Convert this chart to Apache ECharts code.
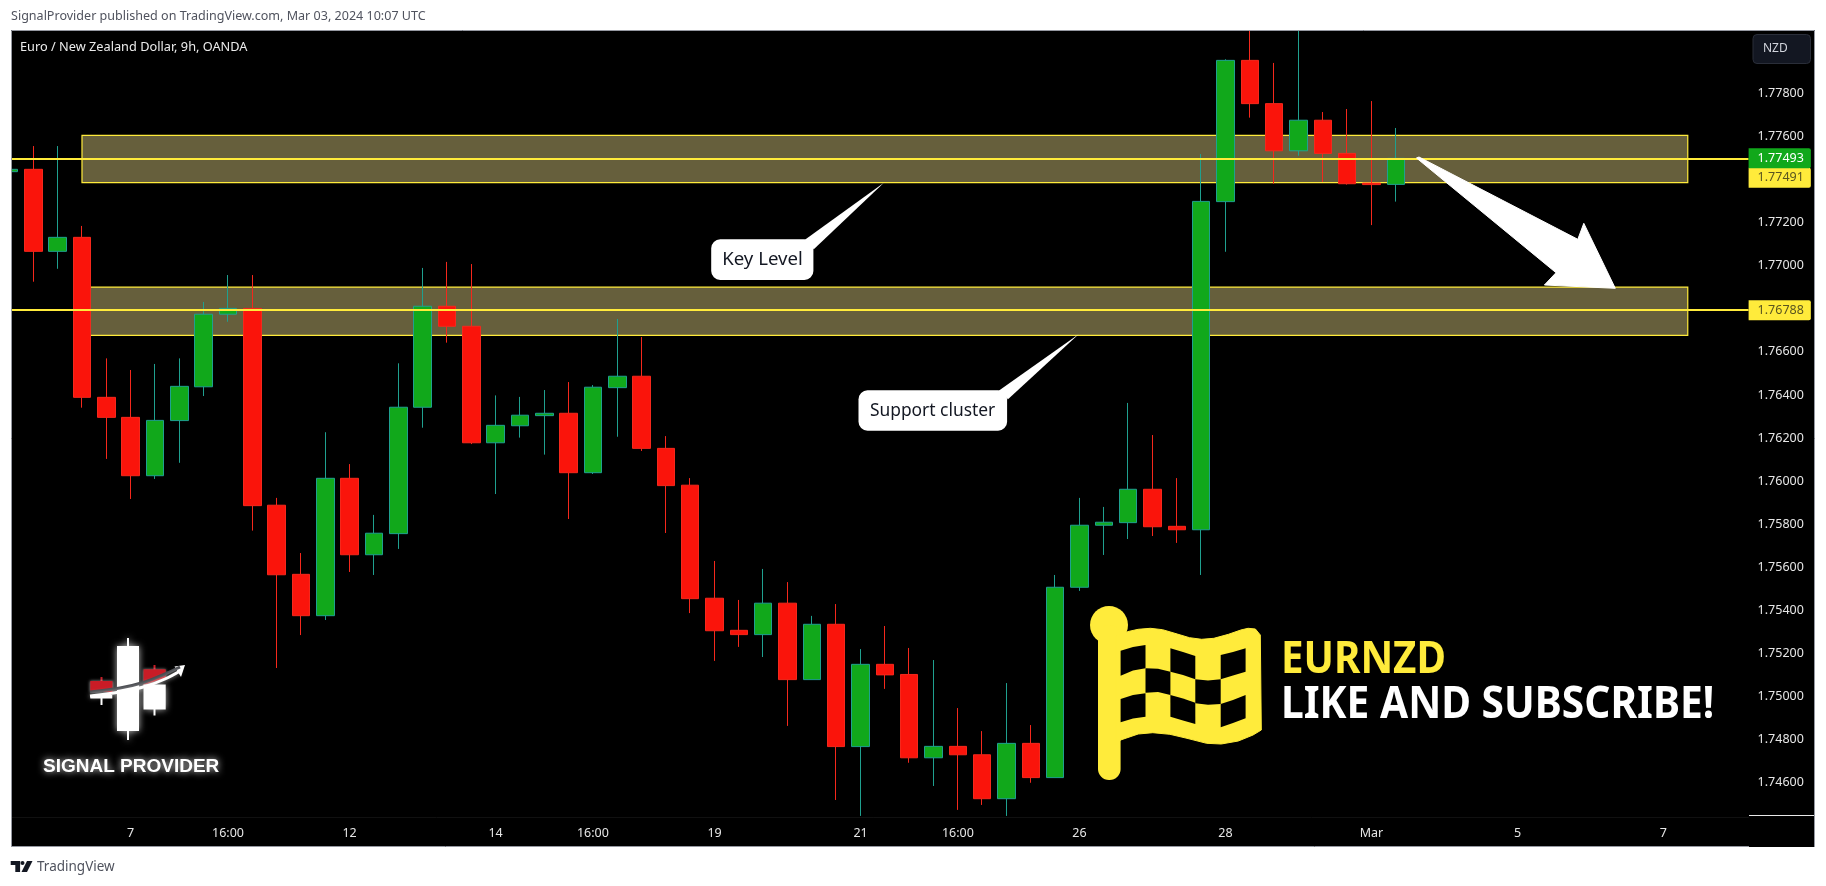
<!DOCTYPE html>
<html><head><meta charset="utf-8">
<style>html,body{margin:0;padding:0;background:#fff}#c{width:1826px;height:886px}</style>
<script src="https://cdn.jsdelivr.net/npm/echarts@6/dist/echarts.min.js"></script>
</head><body><div id="c"></div>
<script>
const opens=[1.77430,1.77441,1.77060,1.77125,1.76382,1.76289,1.76018,1.76274,1.76431,1.76768,1.76795,1.75881,1.75560,1.75368,1.76006,1.75651,1.75749,1.76336,1.76805,1.76712,1.76171,1.76250,1.76297,1.76308,1.76032,1.76427,1.76480,1.76145,1.75974,1.75449,1.75300,1.75280,1.75426,1.75071,1.75328,1.74760,1.75142,1.75095,1.74708,1.74761,1.74722,1.74518,1.74775,1.74616,1.75500,1.75788,1.75800,1.75955,1.75783,1.75767,1.77291,1.77947,1.77746,1.77527,1.77669,1.77515,1.77377,1.77371];
const closes=[1.77441,1.77060,1.77125,1.76382,1.76289,1.76018,1.76275,1.76433,1.76768,1.76795,1.75879,1.75558,1.75368,1.76006,1.75651,1.75751,1.76336,1.76805,1.76712,1.76171,1.76252,1.76299,1.76308,1.76032,1.76429,1.76480,1.76145,1.75972,1.75447,1.75298,1.75280,1.75426,1.75071,1.75328,1.74760,1.75142,1.75093,1.74708,1.74761,1.74722,1.74518,1.74775,1.74616,1.75500,1.75788,1.75802,1.75955,1.75781,1.75767,1.77292,1.77947,1.77746,1.77527,1.77669,1.77515,1.77374,1.77370,1.77492];
const lows=[1.77429,1.76919,1.76979,1.76334,1.76096,1.75910,1.76003,1.76078,1.76388,1.76733,1.75763,1.75125,1.75278,1.75348,1.75571,1.75557,1.75678,1.76241,1.76636,1.76165,1.75933,1.76195,1.76116,1.75817,1.76026,1.76199,1.76133,1.75752,1.75380,1.75158,1.75223,1.75176,1.74856,1.75071,1.74512,1.74438,1.75028,1.74685,1.74577,1.74466,1.74489,1.74438,1.74592,1.74616,1.75483,1.75650,1.75724,1.75738,1.75706,1.75557,1.77058,1.77681,1.77374,1.77504,1.77382,1.77370,1.77182,1.77291];
const highs=[1.77442,1.77549,1.77549,1.77178,1.76563,1.76509,1.76537,1.76563,1.76825,1.76950,1.76950,1.75915,1.75659,1.76220,1.76072,1.75836,1.76540,1.76983,1.77011,1.77001,1.76391,1.76384,1.76416,1.76453,1.76439,1.76746,1.76662,1.76202,1.76007,1.75622,1.75441,1.75585,1.75524,1.75367,1.75422,1.75213,1.75320,1.75218,1.75162,1.74939,1.74832,1.75055,1.74860,1.75557,1.75915,1.75873,1.76356,1.76207,1.76007,1.77512,1.77952,1.78110,1.77935,1.78110,1.77707,1.77721,1.77758,1.77633];
const barCount=72;
const timeTickIndex=[5,9,14,20,24,29,35,39,44,50,56,62,68];
const timeTickText=['7','16:00','12','14','16:00','19','21','16:00','26','28','Mar','5','7'];
const priceTicks=[1.746,1.748,1.750,1.752,1.754,1.756,1.758,1.760,1.762,1.764,1.766,1.768,1.770,1.772,1.774,1.776,1.778];
const priceMin=1.74433, priceMax=1.78088;
const keyZone=[1.77599,1.77379], supportZone=[1.76894,1.76670];
const zoneStart=3, zoneEnd=69;
const lastPrice=1.77493, level1=1.77491, level2=1.76788;

const categories=Array.from({length:barCount},(_,i)=>{const k=timeTickIndex.indexOf(i);return k<0?'':timeTickText[k];});
const rows=opens.map((o,i)=>[o,closes[i],lows[i],highs[i]]);
const Y='#FFEB3B', UI='"Noto Sans",sans-serif';
const zoneStyle={color:'#665F3C',borderColor:Y,borderWidth:1.2};
const txt=(x,y,text,size,color,extra={},sx=1)=>({type:'text',z:120,x,y,scaleX:sx,style:Object.assign({text,fontSize:size,fill:color,fontFamily:UI,verticalAlign:'middle'},extra)});
const poly=(pts,fill,extra={})=>({type:'polygon',z:110,shape:{points:pts},style:Object.assign({fill},extra)});
const rect=(x,y,w,h,fill,extra={},r=0,z=110)=>({type:'rect',z,shape:{x,y,width:w,height:h,r},style:Object.assign({fill},extra)});
const glow={shadowBlur:7,shadowColor:'rgba(255,255,255,0.75)'};

const graphics=[
 rect(0,0,1826,30,'#fff',{},0,100), rect(0,0,11,886,'#fff',{},0,100), rect(1815,0,11,886,'#fff',{},0,100), rect(0,847,1826,39,'#fff',{},0,100),
 {type:'polyline',z:101,shape:{points:[[11.5,847],[11.5,30.5],[1814.5,30.5],[1814.5,847]]},style:{stroke:'#9598a1',lineWidth:1,fill:null}},
 {type:'line',z:101,shape:{x1:11,y1:846.5,x2:1749,y2:846.5},style:{stroke:'#9598a1',lineWidth:1}},
 {type:'line',z:101,shape:{x1:1749,y1:815.5,x2:1814,y2:815.5},style:{stroke:'#e8e8e8',lineWidth:1}},
 txt(11,16.5,'SignalProvider published on TradingView.com, Mar 03, 2024 10:07 UTC',12.55,'#50535e'),
 txt(20,47.5,'Euro / New Zealand Dollar, 9h, OANDA',12.75,'#ebebeb'),
 rect(1753,34.5,57.5,29,'#131722',{stroke:'#2a2e39',lineWidth:1},4),
 txt(1763,48.6,'NZD',12,'#d1d4dc'),
 poly([[1416.5,158],[1419,157],[1577.8,239.3],[1583.8,223.3],[1615.3,288.3],[1544.4,285],[1556,272.7]],'#fff',{stroke:'#fff',lineWidth:1,lineJoin:'round'}),
 poly([[883.9,182.7],[804.9,239.8],[813.8,249.3]],'#fff'),
 rect(711.2,239.3,102.2,40.7,'#fff',{},9),
 txt(762.5,260,'Key Level',18.6,'#131722',{align:'center'}),
 poly([[1078.6,334.3],[998.7,390.8],[1008,399.3]],'#fff'),
 rect(858.5,390.3,148.6,40.4,'#fff',{},9),
 txt(932.6,411.5,'Support cluster',17.4,'#131722',{align:'center'}),
 {type:'circle',z:110,shape:{cx:1109,cy:625,r:19},style:{fill:Y}},
 rect(1098,625,22.6,155,Y,{},11),
 poly([[1116,636],[1127.4,631.7],[1138.2,629.3],[1150.4,628.3],[1162.6,629.7],[1177.2,634],[1189.5,637.7],[1201.7,639.3],[1213.9,638.3],[1228.5,634.3],[1240.8,630],[1248.1,628.3],[1255.4,629],[1260.3,635],[1261.3,730],[1253,735],[1238.3,741],[1221.2,744],[1206.6,743.3],[1187,738.3],[1169.9,734.3],[1152.8,732.7],[1138.2,734],[1120.6,740],[1116,745]],Y,{stroke:Y,lineWidth:1,lineJoin:'round'}),
 poly([[1120.6,650.7],[1133,647],[1145.5,645],[1145.5,668.3],[1133,670.5],[1120.6,675.7]],'#000'),
 poly([[1170.4,648.3],[1183,652],[1195.3,656],[1195.3,679.3],[1183,675],[1170.4,671.7]],'#000'),
 poly([[1220.7,655],[1233,652],[1245.6,648.3],[1245.6,671.7],[1233,675.5],[1220.7,679.3]],'#000'),
 poly([[1145.5,668.3],[1158,668.7],[1170.4,671.7],[1170.4,695],[1158,692],[1145.5,692.7]],'#000'),
 poly([[1195.3,679.3],[1208,680.5],[1220.7,679.3],[1220.7,704],[1208,704.7],[1195.3,703.3]],'#000'),
 poly([[1120.6,699],[1133,695],[1145.5,693.3],[1145.5,716.7],[1133,718.5],[1120.6,722.3]],'#000'),
 poly([[1170.4,695],[1183,698.5],[1195.3,702.7],[1195.3,724],[1183,720.5],[1170.4,716.7]],'#000'),
 poly([[1220.7,704],[1233,700],[1245.6,695],[1245.6,718.3],[1233,723],[1220.7,727.3]],'#000'),
 txt(1281,660,'EURNZD',44,Y,{fontWeight:'bold'},0.915),
 txt(1281,705,'LIKE AND SUBSCRIBE!',44,'#fff',{fontWeight:'bold'},0.925),
 rect(127,638,2,102,'#fff',glow),
 rect(117,646,22,85,'#fff',glow),
 rect(100.5,677,2,6,'#c91c26'), rect(90.3,681,22.2,11,'#c91c26',{shadowBlur:3,shadowColor:'rgba(255,255,255,0.6)'}),
 rect(153.5,665,2,6,'#c91c26'), poly([[143.5,669.3],[165.7,669.3],[165.7,678],[143.5,685]],'#c91c26',{shadowBlur:3,shadowColor:'rgba(255,255,255,0.6)'}),
 rect(143.5,684.5,22.2,25,'#fff',glow), rect(153.5,709,2,6.5,'#fff'), rect(100.5,697,2,8,'#fff'), rect(90.3,695,22,3.5,'#fff'),
 {type:'polyline',z:111,shape:{points:[[90,692],[120,688],[145,682],[165,674],[180,667]],smooth:0.4},style:{stroke:'#44464b',lineWidth:3,fill:null}},
 {type:'polyline',z:112,shape:{points:[[90,696],[120,692],[145,686.5],[165,679],[180,671]],smooth:0.4},style:{stroke:'#fff',lineWidth:3,fill:null,shadowBlur:5,shadowColor:'rgba(255,255,255,0.7)'}},
 poly([[185,665],[174.5,666.5],[181,677]],'#fff'),
 txt(43,766.5,'SIGNAL PROVIDER',19,'#fff',{fontWeight:'bold',fontFamily:'"Liberation Sans",sans-serif',textShadowBlur:7,textShadowColor:'rgba(255,255,255,0.9)',shadowBlur:7,shadowColor:'rgba(255,255,255,0.9)'}),
 rect(10.7,861,9.4,4,'#131722'), rect(15.3,861,4.8,11,'#131722'),
 {type:'circle',z:110,shape:{cx:22.5,cy:863,r:2},style:{fill:'#131722'}},
 poly([[27,861],[32.5,861],[27,872],[21.5,872]],'#131722'),
 txt(37,867.5,'TradingView',13.5,'#50535e'),
];

const tag=(bg,fg,dy)=>({show:true,position:'end',distance:0,offset:[0,dy],backgroundColor:bg,color:fg,fontFamily:UI,fontSize:12.5,padding:[4,7,3,9],borderRadius:[0,2,2,0],formatter:p=>p.value.toFixed(5)});

const option={
 animation:false,backgroundColor:'#000',
 grid:{left:-3.165,width:1751.76,top:30,height:787,containLabel:false,outerBoundsMode:'none'},
 xAxis:{type:'category',data:categories,boundaryGap:true,axisLine:{show:true,lineStyle:{color:'#101010'}},axisTick:{show:false},splitLine:{show:false},
   axisLabel:{interval:0,margin:10,color:'#e6e6e6',fontSize:12.5,fontFamily:UI}},
 yAxis:{type:'value',position:'right',min:priceMin,max:priceMax,scale:true,axisLine:{show:false},axisTick:{show:false},splitLine:{show:false},
   axisLabel:{customValues:priceTicks,margin:9,color:'#e6e6e6',fontSize:12.5,fontFamily:UI,formatter:v=>'{p|'+v.toFixed(5)+'}',
     rich:{p:{color:'#e6e6e6',fontSize:12.5,fontFamily:UI,padding:[3,0,0,0]}}}},
 series:[
  {type:'line',z:1,silent:true,data:categories.map(()=>null),symbol:'none',
   markArea:{silent:true,data:[
     [{xAxis:zoneStart,yAxis:keyZone[0],itemStyle:zoneStyle},{xAxis:zoneEnd,yAxis:keyZone[1]}],
     [{xAxis:zoneStart,yAxis:supportZone[0],itemStyle:zoneStyle},{xAxis:zoneEnd,yAxis:supportZone[1]}]]},
   markLine:{silent:true,symbol:'none',precision:5,lineStyle:{type:'solid',color:Y,width:2},data:[
     {yAxis:level1,label:tag(Y,'#5a5520',19.3)},
     {yAxis:level2,label:tag(Y,'#5a5520',0.4)},
     {yAxis:lastPrice,lineStyle:{color:'rgba(0,0,0,0)',width:0},label:tag('#11A81B','#fff',0.2)}]}},
  {type:'candlestick',z:3,clip:true,data:rows,barWidth:18,
   itemStyle:{color:'#11A81B',color0:'#FA140B',borderColor:'#1FA08F',borderColor0:'#F5281C',borderWidth:1}}
 ],
 graphic:{elements:graphics}
};
echarts.init(document.getElementById('c')).setOption(option);
</script></body></html>
